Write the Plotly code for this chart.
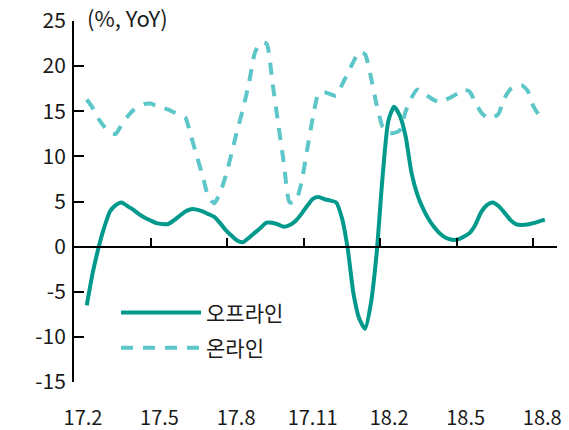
import plotly.graph_objects as go

# Weekly YoY growth (%), Feb 2017 - Aug 2018
week = list(range(80))

offline = [
    -6.5, -3.0, -0.2, 2.1, 3.9, 4.6, 4.9, 4.5, 4.1, 3.6,
    3.2, 2.9, 2.6, 2.5, 2.5, 2.9, 3.4, 3.9, 4.15, 4.1,
    3.9, 3.6, 3.3, 2.6, 1.8, 1.2, 0.65, 0.5, 1.0, 1.55,
    2.1, 2.65, 2.65, 2.45, 2.2, 2.4, 2.85, 3.6, 4.5, 5.3,
    5.5, 5.25, 5.1, 4.9, 3.2, -0.2, -5.2, -8.0, -9.1, -6.3,
    -0.7, 7.6, 13.9, 15.5, 14.5, 12.2, 8.2, 5.8, 4.2, 3.0,
    2.1, 1.4, 0.95, 0.75, 0.8, 1.1, 1.5, 2.4, 3.8, 4.6,
    4.9, 4.5, 3.8, 3.0, 2.5, 2.4, 2.45, 2.6, 2.8, 3.0,
]

online = [
    16.3, 15.4, 14.2, 13.3, 12.6, 12.5, 13.5, 14.4, 15.1, 15.5,
    15.8, 15.85, 15.6, 15.4, 15.2, 14.9, 14.6, 14.3, 12.2, 10.0,
    7.8, 5.5, 4.8, 6.0, 7.9, 10.4, 13.0, 15.4, 18.2, 21.5,
    22.6, 22.5, 18.3, 13.7, 9.2, 4.9, 5.0, 7.0, 10.7, 14.3,
    17.0, 17.1, 16.9, 16.7, 17.9, 19.2, 20.5, 21.6, 21.3, 18.8,
    15.7, 13.3, 12.6, 12.6, 12.9, 15.0, 16.5, 17.4, 17.0, 16.6,
    16.2, 16.0, 16.3, 16.6, 17.0, 17.4, 17.2, 16.0, 14.9, 14.3,
    14.3, 14.7, 16.4, 17.4, 17.8, 17.9, 17.3, 15.6, 14.6, 14.2,
]

month_labels = ["17.2", "17.5", "17.8", "17.11", "18.2", "18.5", "18.8"]
y_ticks = [-15, -10, -5, 0, 5, 10, 15, 20, 25]
y_text = [str(v) for v in y_ticks]  # plain hyphen for negatives

FONT = "Noto Sans CJK KR"
SOLID = "#00998B"
DASHED = "#5CC6C9"

x_start, x_end = -2.2, 81.1
step = 13.2
tick_pos = [x_start + step * k for k in range(len(month_labels))]

fig = go.Figure()
fig.add_trace(go.Scatter(
    x=week, y=offline, name="오프라인", mode="lines", legendgroup="off",
    line=dict(color=SOLID, width=4, shape="spline", smoothing=0.6),
))
fig.add_trace(go.Scatter(
    x=week, y=online, name="온라인", mode="lines", legendgroup="on",
    line=dict(color=DASHED, width=4, shape="spline", smoothing=0.6,
              dash="12px,10px"),
))

fig.update_layout(
    width=569, height=430,
    margin=dict(l=74, r=12, t=21, b=48, autoexpand=False),
    plot_bgcolor="white", paper_bgcolor="white",
    font=dict(family=FONT, size=20, color="#1a1a1a"),
    showlegend=True,
    legend=dict(
        x=0.087, y=0.143, xanchor="left", yanchor="middle",
        bgcolor="rgba(0,0,0,0)", itemwidth=80,
        font=dict(family=FONT, size=21, color="#1a1a1a"),
        tracegroupgap=5,
    ),
    xaxis=dict(
        range=[x_start, x_end], automargin=False,
        anchor="free", position=0.375,
        showline=True, linecolor="black", linewidth=2,
        ticks="inside", ticklen=8, tickwidth=2, tickcolor="black",
        tickvals=tick_pos, ticktext=month_labels,
        ticklabelshift=9, ticklabelstandoff=153,
        showgrid=False, zeroline=False,
    ),
    yaxis=dict(
        range=[-15, 25], automargin=False,
        showline=True, linecolor="black", linewidth=2,
        ticks="inside", ticklen=10, tickwidth=2, tickcolor="black",
        tickvals=y_ticks, ticktext=y_text, tickfont=dict(size=21),
        ticklabelstandoff=2,
        showgrid=False, zeroline=False,
    ),
    annotations=[dict(
        text="(%, YoY)", xref="paper", yref="paper",
        x=0.022, y=1.01, xanchor="left", yanchor="middle",
        showarrow=False, font=dict(family=FONT, size=22, color="#1a1a1a"),
    )],
)

fig.write_html("out.html")
